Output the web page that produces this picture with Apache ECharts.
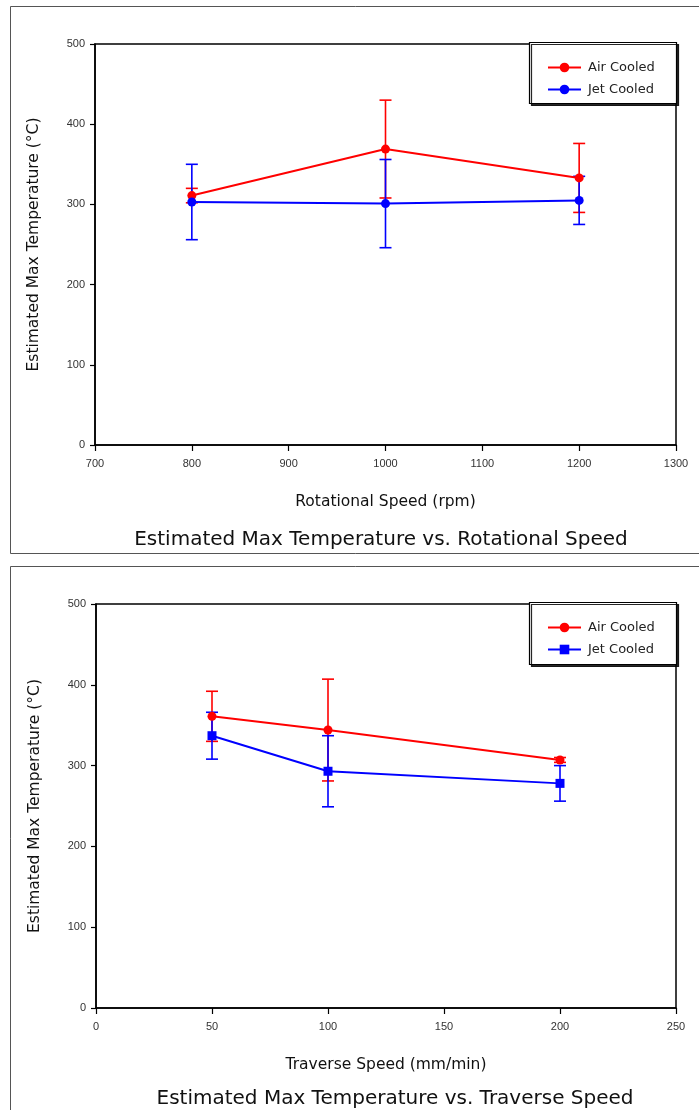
<!DOCTYPE html>
<html>
<head>
<meta charset="utf-8">
<script src="https://cdn.jsdelivr.net/npm/echarts@6/dist/echarts.min.js"></script>
<style>
  html, body { margin: 0; padding: 0; background: #fff; }
  #chart { width: 699px; height: 1110px; }
</style>
</head>
<body>
<div id="chart"></div>
<script>
// Rotational speed study (rpm)
const rotSpeeds = [800, 1000, 1200];
const rotAirMean = [311, 369, 333];
const rotAirErr  = [9, 61, 43];
const rotJetMean = [303, 301, 305];
const rotJetErr  = [47, 55, 30];

// Traverse speed study (mm/min)
const travSpeeds = [50, 100, 200];
const travAirMean = [361, 344, 307];
const travAirErr  = [31, 63, 3];
const travJetMean = [337, 293, 278];
const travJetErr  = [29, 44, 22];

const yTicks = [0, 100, 200, 300, 400, 500];
const seriesNames = ['Air Cooled', 'Jet Cooled'];

const RED = '#ff0000';
const BLUE = '#0000ff';
const FONT = '"Liberation Sans", Arial, sans-serif';
const WIDE = '"DejaVu Sans", Verdana, sans-serif';

function pairs(xs, ys) { return xs.map((x, i) => [x, ys[i]]); }
function bars(xs, m, e) { return xs.map((x, i) => [x, m[i] - e[i], m[i] + e[i]]); }

// vertical error bar with caps
function errorBar(color) {
  return function (params, api) {
    const x = api.value(0);
    const lo = api.coord([x, api.value(1)]);
    const hi = api.coord([x, api.value(2)]);
    const hw = 6;
    const st = { stroke: color, lineWidth: 1.6 };
    return {
      type: 'group',
      children: [
        { type: 'line', shape: { x1: hi[0], y1: hi[1], x2: lo[0], y2: lo[1] }, style: st },
        { type: 'line', shape: { x1: hi[0] - hw, y1: hi[1], x2: hi[0] + hw, y2: hi[1] }, style: st },
        { type: 'line', shape: { x1: lo[0] - hw, y1: lo[1], x2: lo[0] + hw, y2: lo[1] }, style: st }
      ]
    };
  };
}

function xAxisCfg(idx, min, max, interval, name) {
  return {
    gridIndex: idx, type: 'value', min: min, max: max, interval: interval,
    name: name, nameLocation: 'middle', nameGap: 49,
    nameTextStyle: { fontFamily: WIDE, fontSize: 15.5, color: '#111' },
    axisLine: { show: true, lineStyle: { color: '#000', width: 1.5 } },
    axisTick: { show: true, inside: false, length: 6, lineStyle: { color: '#000', width: 1.2 } },
    axisLabel: { margin: 13, fontFamily: FONT, fontSize: 11, color: '#333', formatter: v => String(v) },
    splitLine: { show: false }
  };
}

function yAxisCfg(idx) {
  return {
    gridIndex: idx, type: 'value', min: yTicks[0], max: yTicks[yTicks.length - 1], interval: 100,
    name: 'Estimated Max Temperature (°C)', nameLocation: 'middle', nameGap: 53, nameRotate: 90,
    nameTextStyle: { fontFamily: WIDE, fontSize: 15.5, color: '#111' },
    axisLine: { show: true, lineStyle: { color: '#000', width: 1.5 } },
    axisTick: { show: true, inside: false, length: 5, lineStyle: { color: '#000', width: 1.2 } },
    axisLabel: { margin: 10, fontFamily: FONT, fontSize: 11, color: '#333', formatter: v => String(v) },
    splitLine: { show: false }
  };
}

function lineSeries(name, idx, data, color, symbol) {
  return {
    name: name, type: 'line', xAxisIndex: idx, yAxisIndex: idx,
    data: data, symbol: symbol, symbolSize: 9,
    lineStyle: { color: color, width: 2 },
    itemStyle: { color: color },
    z: 3
  };
}

function barSeries(idx, data, color) {
  return {
    type: 'custom', xAxisIndex: idx, yAxisIndex: idx,
    data: data, renderItem: errorBar(color), z: 3, silent: true
  };
}

function legendCfg(top, names) {
  return {
    orient: 'vertical', left: 542, top: top, itemWidth: 33, itemHeight: 12, itemGap: 9,
    data: names.map(n => ({ name: n })),
    formatter: n => n.split(' ·')[0],
    textStyle: { fontFamily: WIDE, fontSize: 13, color: '#222', padding: [0, 0, 0, 2] },
    selectedMode: false,
    z: 10
  };
}

const chart = echarts.init(document.getElementById('chart'), null, { renderer: 'canvas' });

const titleStyle = { fontFamily: WIDE, fontSize: 20, fontWeight: 'normal', color: '#111' };

const option = {
  backgroundColor: '#fff',
  animation: false,
  grid: [
    { left: 95, top: 44, width: 581, height: 401, show: true, borderColor: '#000', borderWidth: 1.5, backgroundColor: 'transparent' },
    { left: 96, top: 604, width: 580, height: 404, show: true, borderColor: '#000', borderWidth: 1.5, backgroundColor: 'transparent' }
  ],
  xAxis: [
    xAxisCfg(0, 700, 1300, 100, 'Rotational Speed (rpm)'),
    xAxisCfg(1, 0, 250, 50, 'Traverse Speed (mm/min)')
  ],
  yAxis: [yAxisCfg(0), yAxisCfg(1)],
  title: [
    { text: 'Estimated Max Temperature vs. Rotational Speed', left: 376, top: 525, textAlign: 'center', textStyle: titleStyle },
    { text: 'Estimated Max Temperature vs. Traverse Speed', left: 390, top: 1084, textAlign: 'center', textStyle: titleStyle }
  ],
  legend: [
    legendCfg(56, seriesNames),
    legendCfg(616, seriesNames.map(n => n + ' ·t'))
  ],
  graphic: [
    // panel frames
    { type: 'rect', shape: { x: 10.5, y: 6.5, width: 700, height: 547 }, style: { fill: 'none', stroke: '#555', lineWidth: 1 }, z: -10 },
    { type: 'rect', shape: { x: 10.5, y: 566.5, width: 700, height: 560 }, style: { fill: 'none', stroke: '#555', lineWidth: 1 }, z: -10 },
    // legend boxes
    { type: 'rect', shape: { x: 529.5, y: 42.5, width: 147, height: 61 },
      style: { fill: '#fff', stroke: '#000', lineWidth: 1.2, shadowColor: 'rgba(0,0,0,0.85)', shadowOffsetX: 2, shadowOffsetY: 2, shadowBlur: 0 }, z: 5 },
    { type: 'rect', shape: { x: 529.5, y: 602.5, width: 147, height: 62 },
      style: { fill: '#fff', stroke: '#000', lineWidth: 1.2, shadowColor: 'rgba(0,0,0,0.85)', shadowOffsetX: 2, shadowOffsetY: 2, shadowBlur: 0 }, z: 5 }
  ],
  series: [
    lineSeries('Air Cooled', 0, pairs(rotSpeeds, rotAirMean), RED, 'circle'),
    barSeries(0, bars(rotSpeeds, rotAirMean, rotAirErr), RED),
    lineSeries('Jet Cooled', 0, pairs(rotSpeeds, rotJetMean), BLUE, 'circle'),
    barSeries(0, bars(rotSpeeds, rotJetMean, rotJetErr), BLUE),

    lineSeries('Air Cooled ·t', 1, pairs(travSpeeds, travAirMean), RED, 'circle'),
    barSeries(1, bars(travSpeeds, travAirMean, travAirErr), RED),
    lineSeries('Jet Cooled ·t', 1, pairs(travSpeeds, travJetMean), BLUE, 'rect'),
    barSeries(1, bars(travSpeeds, travJetMean, travJetErr), BLUE)
  ]
};

chart.setOption(option);
</script>
</body>
</html>
